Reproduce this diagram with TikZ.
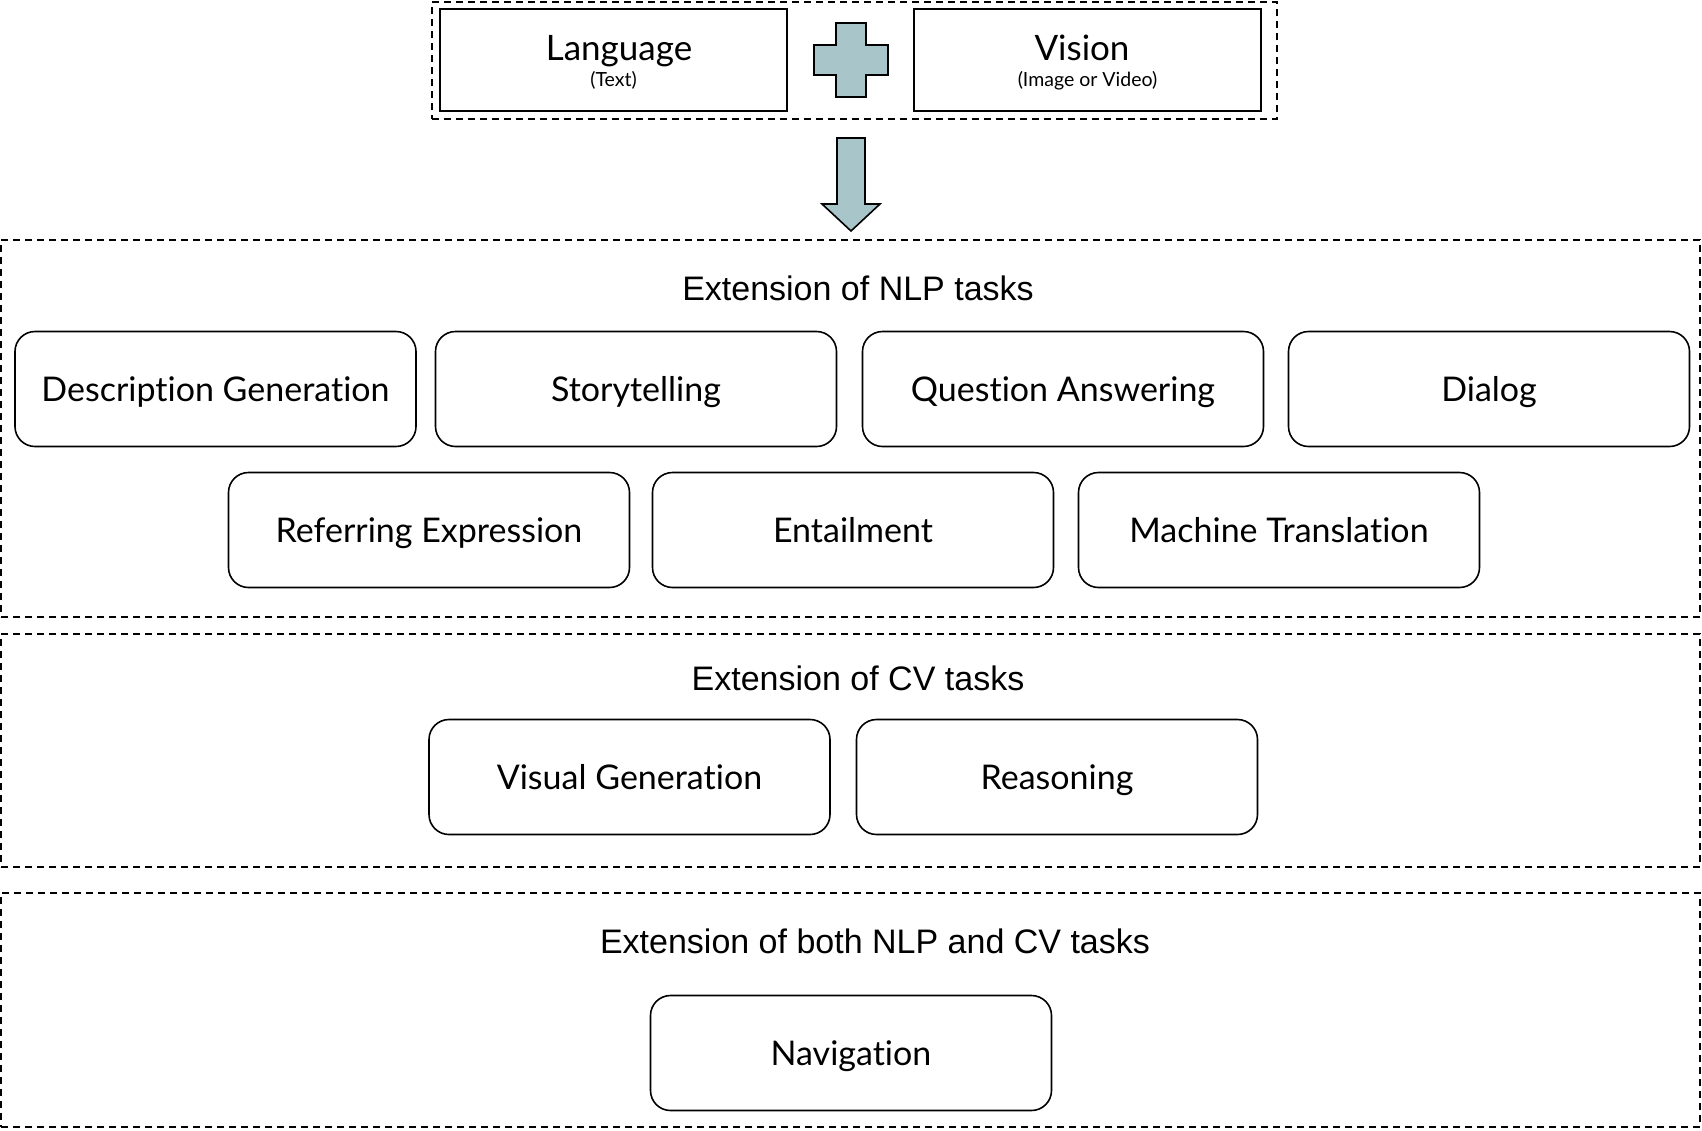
\documentclass[tikz,border=0pt]{standalone}
\usepackage{fontspec}
\setmainfont{Liberation Sans}
\newfontfamily\lato[Ligatures=NoCommon]{Lato}
\definecolor{plusfill}{HTML}{A8C5C9}
\begin{document}
\begin{tikzpicture}[x=1pt,y=-1pt,
  task/.style={draw, rounded corners=20pt, line width=1.6pt, minimum width=401pt, minimum height=115pt, inner sep=0pt, text height=24pt, text depth=0pt, font=\lato\fontsize{34}{40}\selectfont},
  group/.style={draw, dashed, line width=1.4pt, dash pattern=on 7pt off 5pt, inner sep=0pt},
  inbox/.style={draw, line width=1.6pt, minimum width=347pt, minimum height=102pt, inner sep=0pt, align=center},
  title/.style={font=\fontsize{34}{40}\selectfont, inner sep=0pt, text height=24.5pt, text depth=0pt},
  bigtxt/.style={font=\lato\fontsize{35}{40}\selectfont, inner sep=0pt, text height=25pt, text depth=0pt},
  smalltxt/.style={font=\lato\fontsize{19.5}{22}\selectfont, inner sep=0pt, text height=14pt, text depth=0pt},
  shapefill/.style={fill=plusfill, draw=black, line width=1.6pt, line join=miter}]
\useasboundingbox (0,0) rectangle (1702,1130);
% top group
\node[group, minimum width=845pt, minimum height=117pt] (top) at (854.5,60.5) {};
\node[inbox] (lang) at (613.5,60) {};
\node[bigtxt] (langt) at (619,48) {Language};
\node[smalltxt] (langs) at (613.5,79) {(Text)};
\node[inbox] (vis) at (1087.5,60) {};
\node[bigtxt] (vist) at (1082,48) {Vision};
\node[smalltxt] (viss) at (1087.5,79) {(Image or Video)};
% plus
\draw[shapefill] (836,23) -- (866,23) -- (866,45) -- (888,45) -- (888,75) -- (866,75) -- (866,97) -- (836,97) -- (836,75) -- (814,75) -- (814,45) -- (836,45) -- cycle;
% arrow
\draw[shapefill] (837,138) -- (865,138) -- (865,204) -- (880,204) -- (851,231) -- (822,204) -- (837,204) -- cycle;
% NLP group
\node[group, minimum width=1699pt, minimum height=377pt] (nlp) at (850.5,428.5) {};
\node[title] (nlpt) at (858,288) {Extension of NLP tasks};
\node[task] (desc) at (215.5,389) {Description Generation};
\node[task] (story) at (636,389) {Storytelling};
\node[task] (qa) at (1063,389) {Question Answering};
\node[task] (dialog) at (1489,389) {Dialog};
\node[task] (refer) at (429,530) {Referring Expression};
\node[task] (entail) at (853,530) {Entailment};
\node[task] (mt) at (1279,530) {Machine Translation};
% CV group
\node[group, minimum width=1699pt, minimum height=233pt] (cv) at (850.5,750.5) {};
\node[title] (cvt) at (858,678) {Extension of CV tasks};
\node[task] (visgen) at (629.5,777) {Visual Generation};
\node[task] (reason) at (1057,777) {Reasoning};
% both group
\node[group, minimum width=1699pt, minimum height=234pt] (both) at (850.5,1010) {};
\node[title] (botht) at (875,941) {Extension of both NLP and CV tasks};
\node[task] (nav) at (851,1053) {Navigation};
\end{tikzpicture}
\end{document}
